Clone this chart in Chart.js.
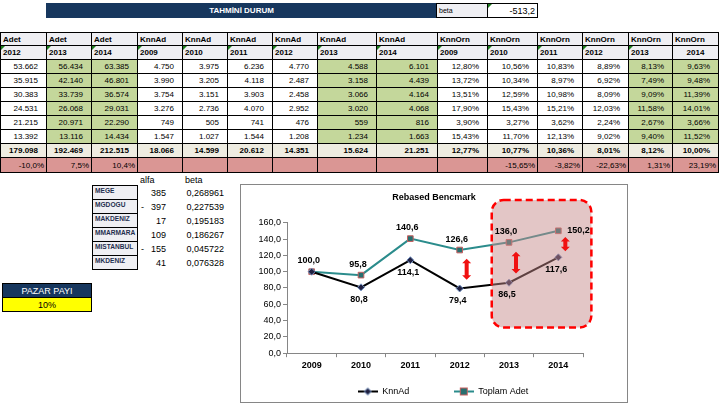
<!DOCTYPE html>
<html>
<head>
<meta charset="utf-8">
<script src="https://cdn.jsdelivr.net/npm/chart.js@4.4.0/dist/chart.umd.min.js"></script>
<style>
body { margin: 0; width: 725px; height: 407px; position: relative; background: #fff; overflow: hidden;
       font-family: 'Liberation Sans Narrow', 'Liberation Sans', Arial, sans-serif; }
.c { position: absolute; box-sizing: border-box; font-size: 8px; white-space: nowrap; overflow: hidden; color: #000;
     display: flex; align-items: center; }
.b { border: 1px solid #000; }
.r { justify-content: flex-end; padding-right: 8px; }
.l { justify-content: flex-start; padding-left: 2px; }
.m { justify-content: center; }
.hd { background: #efeff3; font-weight: bold; }
.gr { background: #c4d79b; }
.tot { background: #eeece1; font-weight: bold; }
.pk { background: #da9694; }
.tri::before { content: ''; position: absolute; left: 0; top: 0; border-top: 4px solid #1d7d1d; border-right: 4px solid transparent; }
#chartBox { position: absolute; left: 240px; top: 184px; width: 388px; height: 219px; border: 1px solid #868686; box-sizing: border-box; overflow: hidden; }
</style>
</head>
<body>
<div id="chartBox"><canvas id="grafik" width="386" height="217"></canvas></div>
<script>
// grafik verisi
const categories = ['2009', '2010', '2011', '2012', '2013', '2014'];
const knnAdSeri = [100.0, 80.8, 114.1, 79.4, 86.5, 117.6];
const toplamAdetSeri = [100.0, 95.8, 140.6, 126.6, 136.0, 150.2];
const yMin = 0, yMax = 160, yStep = 20;

// tablo verisi
const headGroups = ['Adet', 'Adet', 'Adet', 'KnnAd', 'KnnAd', 'KnnAd', 'KnnAd', 'KnnAd', 'KnnAd',
                    'KnnOrn', 'KnnOrn', 'KnnOrn', 'KnnOrn', 'KnnOrn', 'KnnOrn'];
const headYears = ['2012', '2013', '2014', '2009', '2010', '2011', '2012', '2013', '2014',
                   '2009', '2010', '2011', '2012', '2013', '2014'];
const adet = [[53662, 56434, 63385], [35915, 42140, 46801], [30383, 33739, 36574],
              [24531, 26068, 29031], [21215, 20971, 22290], [13392, 13116, 14434]];
const knnAd = [[4750, 3975, 6236, 4770, 4588, 6101], [3990, 3205, 4118, 2487, 3158, 4439],
               [3754, 3151, 3903, 2458, 3066, 4164], [3276, 2736, 4070, 2952, 3020, 4068],
               [749, 505, 741, 476, 559, 816], [1547, 1027, 1544, 1208, 1234, 1663]];
const knnOrn = [[12.80, 10.56, 10.83, 8.89, 8.13, 9.63], [13.72, 10.34, 8.97, 6.92, 7.49, 9.48],
                [13.51, 12.59, 10.98, 8.09, 9.09, 11.39], [17.90, 15.43, 15.21, 12.03, 11.58, 14.01],
                [3.90, 3.27, 3.62, 2.24, 2.67, 3.66], [15.43, 11.70, 12.13, 9.02, 9.40, 11.52]];
const adetTotal = [179098, 192469, 212515];
const knnAdTotal = [18066, 14599, 20612, 14351, 15624, 21251];
const knnOrnTotal = [12.77, 10.77, 10.36, 8.01, 8.12, 10.00];
const adetChange = [-10.0, 7.5, 10.4];
const knnOrnChange = [null, -15.65, -3.82, -22.63, 1.31, 23.19];
const regions = ['MEGE', 'MGDOGU', 'MAKDENIZ', 'MMARMARA', 'MISTANBUL', 'MKDENIZ'];
const alfa = [385, -397, 17, 109, -155, 41];
const beta = [0.268961, 0.227539, 0.195183, 0.186267, 0.045722, 0.076328];
const betaValue = -513.2;
const pazarPayi = 10;

// sayı biçimleri (tr)
function fmtInt(v) {
    return String(Math.abs(Math.round(v))).replace(/\B(?=(\d{3})+(?!\d))/g, '.');
}
function fmtDec(v, d) { return v.toFixed(d).replace('.', ','); }
function fmtPct(v, d) { return v == null ? '' : fmtDec(v, d) + '%'; }

// tablo hücreleri
const colX = [0, 46, 91, 137, 182, 227, 272, 317, 376, 437, 487, 537, 582, 628, 672, 718];
const rowY = [32, 45, 59, 73, 87, 101, 115, 129, 143, 157, 172];

function cell(x0, x1, y0, y1, text, cls, style) {
    const d = document.createElement('div');
    d.className = 'c ' + (cls || '');
    d.style.left = x0 + 'px';
    d.style.top = y0 + 'px';
    d.style.width = (x1 - x0 + 1) + 'px';
    d.style.height = (y1 - y0 + 1) + 'px';
    if (style) Object.assign(d.style, style);
    d.textContent = text;
    document.body.appendChild(d);
    return d;
}

const greenCols = [1, 2, 7, 8, 13, 14];
for (let c = 0; c < 15; c++) {
    cell(colX[c], colX[c + 1], rowY[0], rowY[1], headGroups[c], 'b l hd');
    cell(colX[c], colX[c + 1], rowY[1], rowY[2], headYears[c], 'b hd ' + (c === 14 ? 'm' : 'l tri'));
    for (let r = 0; r < 6; r++) {
        let txt;
        if (c < 3) txt = fmtInt(adet[r][c]);
        else if (c < 9) txt = fmtInt(knnAd[r][c - 3]);
        else txt = fmtPct(knnOrn[r][c - 9], 2);
        cell(colX[c], colX[c + 1], rowY[r + 2], rowY[r + 3], txt, 'b r' + (greenCols.includes(c) ? ' gr' : ''));
    }
    let tot, chg = '';
    if (c < 3) { tot = fmtInt(adetTotal[c]); chg = fmtPct(adetChange[c], 1); }
    else if (c < 9) tot = fmtInt(knnAdTotal[c - 3]);
    else { tot = fmtPct(knnOrnTotal[c - 9], 2); chg = fmtPct(knnOrnChange[c - 9], 2); }
    cell(colX[c], colX[c + 1], rowY[8], rowY[9], tot, 'b r tot');
    cell(colX[c], colX[c + 1], rowY[9], rowY[10], chg, 'b r pk', { paddingRight: '2px' });
}

// başlık ve beta
cell(46, 436, 3, 17, 'TAHMİNİ DURUM', 'm', { background: '#17375e', color: '#fff', fontWeight: 'bold' });
cell(436, 487, 3, 17, 'beta', 'b l', { background: '#efeff3', fontSize: '7px' });
cell(487, 537, 3, 17, fmtDec(betaValue, 1), 'b r tri', { paddingRight: '2px', fontSize: '9px' });

// alfa / beta bölge tablosu
cell(138, 160, 173, 185, 'alfa', 'l', { fontSize: '9px' });
cell(183, 210, 173, 185, 'beta', 'l', { fontSize: '9px' });
regions.forEach((name, i) => {
    const y0 = 185 + i * 14, y1 = y0 + 14;
    cell(92, 137, y0, y1, name, 'b l', { background: '#efeff3', fontWeight: 'bold', fontSize: '6.6px', color: '#1f2f4f', alignItems: 'flex-start', paddingTop: '1px' });
    if (alfa[i] < 0) cell(139, 146, y0, y1, '-', 'l', { fontSize: '9px' });
    cell(146, 166, y0, y1, fmtInt(alfa[i]), 'r', { paddingRight: '1px', fontSize: '9px' });
    cell(170, 224, y0, y1, fmtDec(beta[i], 6), 'r', { paddingRight: '1px', fontSize: '9px' });
});

// pazar payı
cell(2, 91, 283, 297, 'PAZAR PAYI', 'b m', { background: '#17375e', color: '#fff', fontSize: '9px' });
cell(2, 91, 297, 311, pazarPayi + '%', 'b m', { background: '#ffff00', fontSize: '9px' });

// grafik stilleri
const FONT = "'Liberation Sans', Arial, sans-serif";
const tealLine = '#2b8c8c';
const boxArea = { x0: 3.65, x1: 5.67, y0: 31.5, y1: 188 };   // kırmızı kesikli alan (veri birimi)
const arrowIdx = [3, 4, 5];
const toplamLabelPos = ['above', 'above', 'above', 'above', 'above', 'right'];

function legendIcon(lineColor, drawMarker) {
    const cv = document.createElement('canvas');
    cv.width = 20; cv.height = 10;
    const g = cv.getContext('2d');
    g.strokeStyle = lineColor; g.lineWidth = 2;
    g.beginPath(); g.moveTo(0, 5); g.lineTo(20, 5); g.stroke();
    drawMarker(g, 10, 5);
    return cv;
}
const iconKnn = legendIcon('#000', (g, x, y) => {
    g.fillStyle = '#202040'; g.strokeStyle = '#7090c0'; g.lineWidth = 1;
    g.beginPath(); g.moveTo(x, y - 3.5); g.lineTo(x + 3.5, y); g.lineTo(x, y + 3.5); g.lineTo(x - 3.5, y); g.closePath();
    g.fill(); g.stroke();
});
const iconTop = legendIcon(tealLine, (g, x, y) => {
    g.fillStyle = '#276f6f'; g.strokeStyle = '#c86060'; g.lineWidth = 1;
    g.fillRect(x - 3.5, y - 3.5, 7, 7); g.strokeRect(x - 3.5, y - 3.5, 7, 7);
});

function drawArrow(ctx, x, yTop, yBot) {
    const hw = 4.5, hl = 4.5, sw = 2;
    ctx.fillStyle = '#f01010';
    ctx.beginPath();
    ctx.moveTo(x, yTop);
    ctx.lineTo(x + hw, yTop + hl); ctx.lineTo(x + sw, yTop + hl);
    ctx.lineTo(x + sw, yBot - hl); ctx.lineTo(x + hw, yBot - hl);
    ctx.lineTo(x, yBot);
    ctx.lineTo(x - hw, yBot - hl); ctx.lineTo(x - sw, yBot - hl);
    ctx.lineTo(x - sw, yTop + hl); ctx.lineTo(x - hw, yTop + hl);
    ctx.closePath();
    ctx.fill();
}

const ekler = {
    id: 'ekler',
    afterLayout(chart) {
        // lejantı excel'deki gibi biraz sağa kaydır
        chart.legend.left += 9;
        chart.legend.right += 9;
    },
    afterDatasetsDraw(chart) {
        const ctx = chart.ctx;
        const xs = chart.scales.x, ys = chart.scales.y;
        ctx.save();
        // yarı saydam alan
        const bx0 = xs.getPixelForValue(boxArea.x0), bx1 = xs.getPixelForValue(boxArea.x1);
        const by0 = ys.getPixelForValue(boxArea.y1), by1 = ys.getPixelForValue(boxArea.y0);
        ctx.beginPath();
        ctx.roundRect(bx0, by0, bx1 - bx0, by1 - by0, 12);
        ctx.fillStyle = 'rgba(196,136,136,0.48)';
        ctx.fill();
        ctx.setLineDash([7, 4]);
        ctx.lineWidth = 2.5;
        ctx.strokeStyle = '#ff0000';
        ctx.stroke();
        ctx.setLineDash([]);

        // değer etiketleri
        ctx.font = 'bold 9px ' + FONT;
        ctx.fillStyle = '#000';
        ctx.textBaseline = 'middle';
        const m0 = chart.getDatasetMeta(0), m1 = chart.getDatasetMeta(1);
        toplamAdetSeri.forEach((v, i) => {
            const p = m1.data[i];
            if (toplamLabelPos[i] === 'right') {
                ctx.textAlign = 'left';
                ctx.fillText(fmtDec(v, 1), p.x + 9, p.y);
            } else {
                ctx.textAlign = 'center';
                ctx.fillText(fmtDec(v, 1), p.x - 3, p.y - 11);
            }
        });
        knnAdSeri.forEach((v, i) => {
            if (v === toplamAdetSeri[i]) return;
            const p = m0.data[i];
            ctx.textAlign = 'center';
            ctx.fillText(fmtDec(v, 1), p.x - 2, p.y + 12);
        });

        // fark okları
        arrowIdx.forEach(i => {
            const a = m1.data[i].y, b = m0.data[i].y;
            const mid = (a + b) / 2, half = (b - a) * 0.27;
            drawArrow(ctx, m0.data[i].x + 7, mid - half, mid + half);
        });
        ctx.restore();
    }
};

new Chart(document.getElementById('grafik'), {
    type: 'line',
    data: {
        labels: categories,
        datasets: [{
            label: 'KnnAd',
            data: knnAdSeri,
            borderColor: '#000',
            borderWidth: 2,
            pointStyle: 'rectRot',
            pointRadius: 3.5,
            pointBackgroundColor: '#202040',
            pointBorderColor: '#7090c0',
            pointBorderWidth: 1,
            tension: 0
        }, {
            label: 'Toplam Adet',
            data: toplamAdetSeri,
            borderColor: tealLine,
            borderWidth: 2,
            pointStyle: 'rect',
            pointRadius: 4,
            pointBackgroundColor: '#276f6f',
            pointBorderColor: '#c86060',
            pointBorderWidth: 1,
            tension: 0
        }]
    },
    options: {
        responsive: false,
        animation: false,
        devicePixelRatio: 1,
        layout: { padding: { top: 0, left: 0, right: 0, bottom: -4 } },
        plugins: {
            title: {
                display: true,
                text: 'Rebased Bencmark',
                color: '#000',
                font: { family: FONT, size: 9, weight: 'bold' },
                padding: { top: 7, bottom: 20 }
            },
            legend: {
                position: 'bottom',
                labels: {
                    usePointStyle: true,
                    pointStyleWidth: 20,
                    padding: 2,
                    color: '#000',
                    font: { family: FONT, size: 9 },
                    generateLabels(chart) {
                        const items = Chart.defaults.plugins.legend.labels.generateLabels(chart);
                        items[0].pointStyle = iconKnn;
                        items[0].text = items[0].text + '\u00a0'.repeat(17);
                        items[1].pointStyle = iconTop;
                        return items;
                    }
                }
            },
            tooltip: { enabled: false }
        },
        scales: {
            x: {
                offset: true,
                grid: { offset: true, drawOnChartArea: false, drawTicks: true, tickLength: 4, color: '#868686' },
                border: { color: '#868686' },
                ticks: { color: '#000', padding: 3, font: { family: FONT, size: 9, weight: 'bold' } },
                afterFit(scale) { scale.height += 11; }
            },
            y: {
                min: yMin,
                max: yMax,
                grid: { drawOnChartArea: false, drawTicks: true, tickLength: 4, color: '#868686' },
                border: { color: '#868686' },
                ticks: {
                    stepSize: yStep,
                    padding: 2,
                    color: '#000',
                    font: { family: FONT, size: 9 },
                    callback: v => fmtDec(v, 1)
                },
                afterFit(scale) { scale.width = 46; }
            },
            // sağ boşluk için görünmez eksen
            yR: {
                type: 'linear',
                position: 'right',
                grid: { display: false },
                border: { display: false },
                ticks: { display: false },
                afterFit(scale) { scale.width = 44; }
            }
        }
    },
    plugins: [ekler]
});
</script>
</body>
</html>
